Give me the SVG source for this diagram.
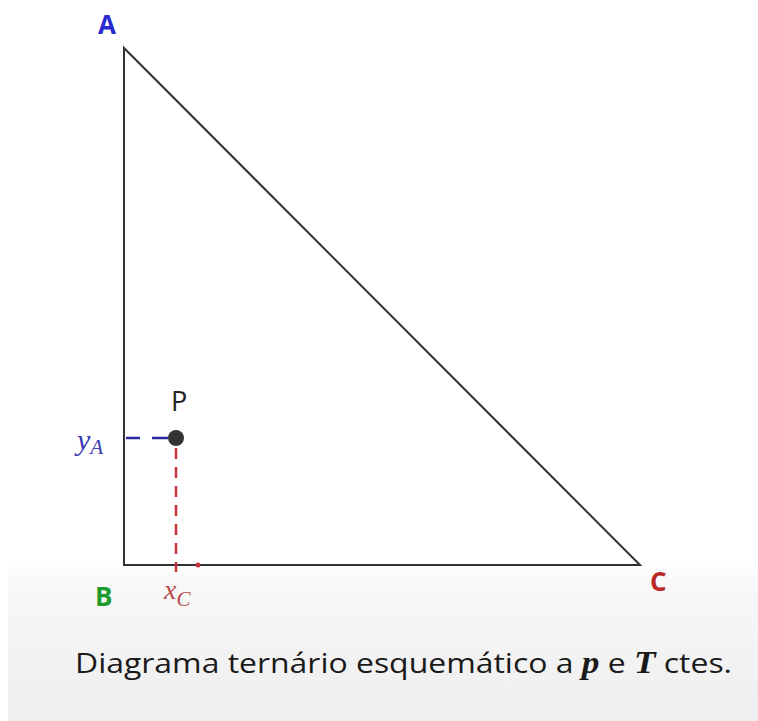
<svg xmlns="http://www.w3.org/2000/svg" width="758" height="721" viewBox="0 0 758 721">
<defs>
<linearGradient id="bg" x1="0" y1="0" x2="0" y2="1">
<stop offset="0" stop-color="#ffffff"/>
<stop offset="0.2" stop-color="#f7f7f7"/>
<stop offset="1" stop-color="#eeeeee"/>
</linearGradient>
<style>
.lbl{font-family:"Open Sans","Liberation Sans",sans-serif;font-weight:bold;font-size:26px}
.math{font-family:"Liberation Serif","DejaVu Serif",serif;font-style:italic}
.edge{fill:none;stroke:#333;stroke-width:2}
</style>
</defs>
<rect x="0" y="0" width="758" height="721" fill="#fff"/>
<rect x="8" y="560" width="750" height="161" fill="url(#bg)"/>
<g id="connectors">
<polygon class="edge" points="124,48 124,565 640,565"/>
<path d="M126 438 H140 M152 438 H168" stroke="#2a2aa0" stroke-width="2.5" fill="none"/>
<line x1="176" y1="448" x2="176" y2="572" stroke="#c8343c" stroke-width="2.5" stroke-dasharray="11,8"/>
<circle cx="198" cy="565" r="2.5" fill="#c8343c"/>
</g>
<g id="node-A"><text class="lbl" x="98" y="34" fill="#2a2ad0">A</text></g>
<g id="node-B"><text class="lbl" x="95" y="606" fill="#1e9a2e">B</text></g>
<g id="node-C"><text class="lbl" x="650" y="591" fill="#b82828">C</text></g>
<g id="node-P">
<circle cx="176" cy="438" r="8" fill="#333"/>
<text x="171" y="411" font-family="Open Sans,Liberation Sans,sans-serif" font-size="27" fill="#222">P</text>
</g>
<g id="label-yA"><text class="math" x="77" y="450" font-size="30" fill="#3a3ab0">y<tspan font-size="21" dy="4">A</tspan></text></g>
<g id="label-xC"><text class="math" x="164" y="599" font-size="28" fill="#b84a4a">x<tspan font-size="21" dy="7">C</tspan></text></g>
<g id="caption"><text x="75" y="673" font-family="Open Sans,Liberation Sans,sans-serif" font-size="28" fill="#1a1a1a" textLength="657" lengthAdjust="spacingAndGlyphs">Diagrama ternário esquemático a <tspan font-family="Liberation Serif,serif" font-style="italic" font-weight="bold" font-size="31">p</tspan> e <tspan font-family="Liberation Serif,serif" font-style="italic" font-weight="bold" font-size="31">T</tspan> ctes.</text></g>
</svg>
